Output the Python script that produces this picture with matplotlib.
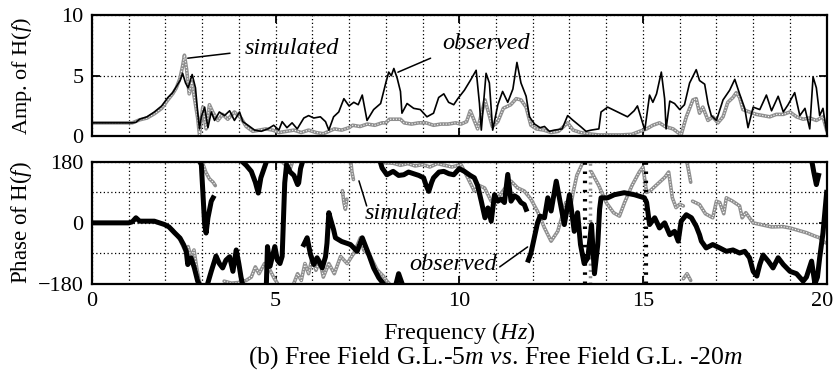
import numpy as np
import matplotlib
matplotlib.use("Agg")
import matplotlib.pyplot as plt
import matplotlib.transforms as mtransforms

nan = np.nan

plt.rcParams['font.family'] = ['Liberation Serif', 'DejaVu Serif']
plt.rcParams['mathtext.fontset'] = 'custom'
plt.rcParams['mathtext.rm'] = 'Liberation Serif'
plt.rcParams['mathtext.it'] = 'Liberation Serif:italic'

freq_ticks = [0, 5, 10, 15, 20]
amp_ticks = [0, 5, 10]
phase_ticks = [-180, 0, 180]

# amplitude of H(f): (frequency Hz, amplitude)
obs_amp = [
    (0.0, 1.1), (1.1, 1.1), (1.2, 1.15), (1.3, 1.4), (1.5, 1.6), (1.7, 2.0), (1.9, 2.5),
    (2.07, 3.2), (2.2, 3.6), (2.3, 4.1), (2.4, 4.6), (2.47, 5.2), (2.55, 4.4), (2.62, 4.0),
    (2.73, 5.1), (2.82, 4.0), (2.88, 2.0), (2.93, 0.6), (2.98, 1.6), (3.07, 2.4), (3.16, 0.7),
    (3.25, 2.0), (3.34, 1.3), (3.47, 2.0), (3.61, 1.7), (3.75, 2.1), (3.88, 1.3), (4.02, 2.0),
    (4.11, 1.2), (4.25, 0.9), (4.43, 0.5), (4.61, 0.4), (4.79, 0.6), (4.95, 0.9), (5.09, 0.5),
    (5.18, 1.2), (5.31, 0.7), (5.45, 1.1), (5.59, 0.6), (5.77, 1.5), (5.9, 1.7), (6.04, 1.5),
    (6.22, 1.6), (6.36, 1.2), (6.45, 0.5), (6.58, 1.6), (6.72, 2.0), (6.86, 3.1), (7.0, 2.5),
    (7.13, 2.8), (7.25, 2.6), (7.36, 3.4), (7.49, 1.3), (7.67, 2.2), (7.86, 2.7), (8.0, 4.4),
    (8.08, 5.3), (8.15, 5.0), (8.22, 5.6), (8.31, 4.8), (8.4, 3.7), (8.44, 1.9), (8.58, 2.7),
    (8.76, 2.3), (8.94, 2.2), (9.12, 1.6), (9.3, 1.9), (9.44, 3.2), (9.58, 3.5), (9.71, 2.8),
    (9.85, 2.6), (9.96, 3.1), (10.14, 3.8), (10.3, 4.6), (10.46, 5.45), (10.55, 2.7),
    (10.6, 0.5), (10.73, 5.2), (10.82, 4.4), (10.91, 0.5), (11.05, 2.6), (11.18, 3.7),
    (11.32, 2.8), (11.46, 3.9), (11.57, 6.1), (11.68, 4.4), (11.82, 3.3), (11.91, 1.6),
    (12.05, 1.0), (12.2, 0.7), (12.32, 0.8), (12.45, 0.4), (12.59, 0.5), (12.8, 0.6),
    (12.95, 1.7), (13.1, 1.3), (13.3, 0.8), (13.45, 0.4), (13.59, 0.5), (13.8, 0.6),
    (13.86, 2.0), (14.04, 2.4), (14.31, 2.0), (14.58, 1.6), (14.76, 2.1), (14.85, 2.5),
    (14.94, 1.6), (15.05, 0.5), (15.18, 3.4), (15.27, 2.8), (15.37, 3.5), (15.5, 5.3),
    (15.59, 3.1), (15.63, 0.6), (15.73, 2.9), (15.86, 2.7), (16.0, 2.2), (16.13, 2.6),
    (16.27, 4.4), (16.45, 5.5), (16.54, 4.6), (16.68, 4.3), (16.77, 2.7), (16.86, 1.7),
    (17.0, 1.3), (17.18, 3.0), (17.36, 3.8), (17.5, 4.7), (17.63, 3.5), (17.77, 2.3),
    (17.86, 0.7), (18.0, 2.4), (18.18, 2.2), (18.36, 3.4), (18.5, 2.1), (18.68, 3.3),
    (18.82, 2.0), (18.95, 2.6), (19.13, 3.6), (19.27, 1.7), (19.41, 2.3), (19.54, 0.6),
    (19.63, 4.9), (19.72, 4.0), (19.81, 1.7), (19.9, 2.3), (20.0, 0.3),
]

sim_amp = [
    (0.0, 1.1), (1.1, 1.1), (1.3, 1.35), (1.5, 1.5), (1.7, 1.85), (1.9, 2.3), (2.07, 3.0),
    (2.2, 3.5), (2.3, 4.0), (2.4, 4.8), (2.47, 5.8), (2.52, 6.7), (2.58, 5.5), (2.65, 3.5),
    (2.72, 4.5), (2.8, 3.0), (2.88, 1.5), (2.93, 0.1), (2.98, 1.5), (3.02, 2.4), (3.11, 0.6),
    (3.2, 2.6), (3.29, 2.0), (3.43, 1.3), (3.56, 1.8), (3.7, 1.4), (3.88, 2.0), (4.06, 1.5),
    (4.2, 0.8), (4.38, 0.4), (4.56, 0.5), (4.74, 0.6), (4.92, 0.5), (5.1, 0.3), (5.3, 0.4),
    (5.5, 0.5), (5.7, 0.3), (5.9, 0.5), (6.1, 0.3), (6.3, 0.2), (6.45, 0.4), (6.6, 0.6),
    (6.8, 0.5), (7.0, 0.7), (7.1, 0.9), (7.3, 0.8), (7.5, 1.0), (7.7, 0.9), (7.9, 1.1),
    (8.0, 1.1), (8.1, 1.4), (8.25, 1.4), (8.4, 1.4), (8.5, 1.1), (8.7, 1.0), (8.9, 1.1),
    (9.1, 1.1), (9.3, 0.9), (9.5, 1.0), (9.7, 1.0), (9.9, 1.1), (10.05, 1.0), (10.2, 1.2),
    (10.3, 2.1), (10.5, 0.6), (10.7, 3.0), (10.9, 0.8), (11.05, 1.2), (11.2, 2.3),
    (11.4, 2.6), (11.55, 3.1), (11.68, 3.0), (11.82, 2.4), (11.95, 0.9), (12.1, 0.6),
    (12.3, 0.5), (12.5, 0.3), (12.7, 0.4), (12.95, 1.1), (13.1, 0.5), (13.3, 0.3),
    (13.5, 0.2), (13.8, 0.1), (14.1, 0.1), (14.4, 0.1), (14.7, 0.15), (14.91, 0.4),
    (15.1, 0.6), (15.27, 0.9), (15.45, 1.1), (15.6, 0.8), (15.82, 0.6), (16.04, 0.1),
    (16.18, 1.6), (16.36, 3.0), (16.45, 3.1), (16.54, 1.9), (16.63, 2.4), (16.77, 1.3),
    (16.9, 1.6), (17.04, 1.1), (17.18, 1.6), (17.31, 2.8), (17.45, 3.2), (17.54, 3.6),
    (17.63, 3.2), (17.72, 2.2), (17.9, 2.0), (18.09, 1.8), (18.27, 1.7), (18.45, 1.6),
    (18.63, 1.8), (18.82, 1.8), (19.0, 2.0), (19.18, 1.6), (19.36, 1.4), (19.54, 1.5),
    (19.72, 1.3), (19.9, 1.6), (20.0, 0.5),
]

# phase of H(f) in degrees, (nan, nan) rows separate the wrapped pieces
obs_phase = [
    (0.0, 0), (1.0, 0), (1.1, 3), (1.2, 15), (1.3, 5), (1.7, 5), (1.98, -5), (2.1, -12),
    (2.25, -29), (2.4, -45), (2.5, -65), (2.57, -84), (2.61, -123), (2.7, -103),
    (2.79, -133), (2.88, -172), (2.92, -180),
    (nan, nan),
    (2.94, 180), (2.98, 172), (3.02, 94), (3.07, -5), (3.11, -30), (3.16, 15), (3.25, 64),
    (3.3, 74),
    (nan, nan),
    (3.15, -180), (3.25, -143), (3.38, -98), (3.47, -120), (3.56, -133), (3.65, -110),
    (3.75, -100), (3.84, -143), (3.93, -80), (4.0, -120), (4.06, -160), (4.1, -180),
    (nan, nan),
    (4.1, 180), (4.2, 170), (4.34, 152), (4.45, 120), (4.53, 88), (4.6, 133), (4.7, 165),
    (4.75, 180),
    (nan, nan),
    (4.75, -180), (4.78, -70), (4.85, -128), (4.98, -70), (5.05, -110), (5.12, -120),
    (5.18, -99), (5.22, 20), (5.25, 118), (5.3, 172), (5.4, 150), (5.5, 140), (5.6, 113),
    (5.63, 118), (5.68, 160), (5.72, 175),
    (nan, nan),
    (5.77, -64), (5.86, -44), (5.95, -93), (6.04, -123), (6.13, -103), (6.27, -133),
    (6.36, -100), (6.4, -60), (6.45, 30), (6.5, 10), (6.58, -20), (6.63, -44), (6.8, -55),
    (7.04, -64), (7.22, -84), (7.36, -44), (7.54, -94), (7.67, -133), (7.81, -162),
    (7.94, -180),
    (nan, nan),
    (7.85, 180), (7.9, 162), (8.03, 142), (8.2, 152), (8.35, 140), (8.49, 142), (8.62, 150),
    (8.76, 145), (8.9, 140), (9.03, 133), (9.1, 110), (9.17, 93), (9.25, 120), (9.3, 133),
    (9.45, 150), (9.58, 152), (9.72, 145), (9.85, 142), (10.0, 160), (10.14, 152),
    (10.3, 140), (10.41, 133), (10.5, 110), (10.6, 64), (10.7, 15), (10.78, 44), (10.87, 5),
    (10.96, 83), (11.05, 64), (11.14, 70), (11.23, 60), (11.32, 143), (11.41, 64),
    (11.5, 80), (11.59, 74), (11.68, 60), (11.77, 54), (11.82, 40),
    (nan, nan),
    (8.28, -180), (8.35, -150), (8.44, -178),
    (nan, nan),
    (11.88, -110), (11.95, -90), (12.05, -40), (12.13, 0), (12.2, 20), (12.32, 15),
    (12.41, 74), (12.5, 35), (12.64, 123), (12.73, 70), (12.86, -5), (13.0, 83),
    (13.13, -25), (13.22, 30), (13.3, -64), (13.4, -120), (13.5, -103), (13.6, -5),
    (13.68, -150), (13.77, -64), (13.82, 40), (13.86, 74), (14.04, 74), (14.22, 83),
    (14.49, 89), (14.77, 83), (15.04, 74), (15.1, 60), (15.18, -5), (15.32, 15),
    (15.45, -15), (15.59, 0), (15.73, -35), (15.86, -25), (15.96, -54), (16.04, 5),
    (16.18, 24), (16.32, 15), (16.45, -10), (16.54, -35), (16.59, -54), (16.72, -74),
    (16.9, -64), (17.09, -74), (17.27, -84), (17.45, -80), (17.63, -89), (17.77, -84),
    (17.9, -103), (18.0, -143), (18.1, -157), (18.18, -123), (18.27, -95), (18.41, -113),
    (18.54, -133), (18.68, -103), (18.82, -123), (19.0, -143), (19.18, -150),
    (19.36, -172), (19.45, -160), (19.59, -113), (19.68, -180), (19.75, -160),
    (19.81, -103), (19.9, -30), (20.0, 90),
    (nan, nan),
    (19.6, 180), (19.65, 150), (19.72, 113), (19.78, 140),
]

sim_phase = [
    (2.0, -5), (2.2, -20), (2.4, -50), (2.55, -85), (2.62, -70), (2.7, -100), (2.78, -80),
    (2.85, -130), (2.92, -170), (2.95, -180),
    (nan, nan),
    (2.95, 180), (3.02, 175), (3.1, 150), (3.2, 130), (3.3, 120), (3.36, 110),
    (nan, nan),
    (3.6, -172), (3.8, -178), (4.0, -176), (4.2, -170), (4.34, -160), (4.45, -130),
    (4.55, -150), (4.7, -120), (4.85, -140), (4.97, -165), (5.05, -178),
    (nan, nan),
    (5.2, 178), (5.3, 168), (5.4, 160), (5.45, 176),
    (nan, nan),
    (5.5, -178), (5.6, -150), (5.7, -170), (5.8, -120), (5.9, -150), (6.0, -100),
    (6.1, -140), (6.2, -110), (6.3, -160), (6.45, -120), (6.6, -150), (6.77, -99),
    (6.95, -120), (7.13, -90), (7.31, -44), (7.4, -80), (7.58, -99), (7.76, -138),
    (7.94, -158), (8.03, -172), (8.1, -180),
    (nan, nan),
    (6.82, 95), (6.86, 60), (6.9, 40), (6.94, 70),
    (nan, nan),
    (7.05, 180), (7.08, 150), (7.12, 128),
    (nan, nan),
    (7.9, 178), (8.2, 176), (8.4, 170), (8.6, 175), (8.8, 168), (9.0, 172), (9.2, 165),
    (9.4, 175), (9.6, 170), (9.8, 165), (10.05, 172), (10.23, 133), (10.41, 94),
    (10.55, 110), (10.69, 103), (10.87, 64), (11.05, 74), (11.23, 100), (11.41, 123),
    (11.59, 103), (11.77, 94), (11.95, 70), (12.13, 34), (12.32, -15), (12.5, -54),
    (12.68, -25), (12.8, 20), (12.9, 60), (13.0, 30), (13.1, 90), (13.2, 140), (13.35, 175),
    (nan, nan),
    (13.6, 150), (13.8, 110), (14.0, 60), (14.2, 30), (14.36, 20), (14.5, 60), (14.7, 110),
    (14.9, 150), (15.0, 165), (15.1, 90), (15.2, 95), (15.4, 115), (15.6, 135), (15.7, 150),
    (15.8, 74), (15.9, 45), (16.0, 55), (16.1, 50),
    (nan, nan),
    (16.2, 178), (16.25, 150), (16.3, 120),
    (nan, nan),
    (16.1, -165), (16.2, -150), (16.3, -170),
    (nan, nan),
    (16.35, 64), (16.54, 54), (16.7, 27), (16.9, 15), (17.0, 64), (17.09, 60), (17.2, 27),
    (17.27, 74), (17.44, 64), (17.63, 50), (17.7, 15), (17.8, 30), (18.0, 0), (18.5, -12),
    (18.8, -11), (19.0, -15), (19.45, -29), (19.7, -40), (19.81, -44), (19.9, -55),
    (20.0, -60),
]

# frequencies where the phase jumps through the full range (drawn as dotted columns)
obs_jump_f = [13.42, 15.07]
sim_jump_f = [13.55]


def gray_line(ax, pts):
    a = np.array(pts, dtype=float)
    ax.plot(a[:, 0], a[:, 1], color='#8f8f8f', lw=2.6, solid_capstyle='round', zorder=2)
    ax.plot(a[:, 0], a[:, 1], color='white', lw=0.8, ls=(0, (1, 1.6)), zorder=2.1)


def pointer(ax, p0, p1):
    ax.annotate('', xy=p1, xytext=p0,
                arrowprops=dict(arrowstyle='-', lw=1.1, color='black', shrinkA=0, shrinkB=0))


def style_axes(ax):
    ax.set_xlim(0, 20)
    ax.set_xticks(freq_ticks)
    ax.set_xticks(np.arange(0, 21, 1), minor=True)
    ax.grid(True, which='both', color='black', ls=(0, (1, 2)), lw=0.9)
    ax.tick_params(which='major', direction='in', length=6, width=1.3,
                   top=True, right=True, labelsize=16, pad=6)
    ax.tick_params(which='minor', length=0)
    for s in ax.spines.values():
        s.set_linewidth(1.6)
    ax.set_axisbelow(True)


def main():
    fig = plt.figure(figsize=(8.35, 3.73), dpi=100)
    ax1 = fig.add_axes([0.110, 0.635, 0.880, 0.324])
    ax2 = fig.add_axes([0.110, 0.239, 0.880, 0.327])

    # amplitude
    gray_line(ax1, sim_amp)
    a = np.array(obs_amp)
    ax1.plot(a[:, 0], a[:, 1], color='black', lw=1.2, zorder=3)
    style_axes(ax1)
    ax1.set_ylim(0, 10)
    ax1.set_yticks(amp_ticks)
    ax1.tick_params(labelbottom=False)
    ax1.set_ylabel('Amp. of H($f$)', fontsize=16)
    ax1.yaxis.set_label_coords(-0.079, 0.5)

    pointer(ax1, (3.76, 6.86), (2.61, 6.45))
    ax1.text(4.16, 7.27, 'simulated', fontsize=17.5, style='italic', ha='left', va='center')
    pointer(ax1, (9.22, 6.45), (8.33, 5.29))
    ax1.text(9.55, 7.69, 'observed', fontsize=17.5, style='italic', ha='left', va='center')

    # phase
    gray_line(ax2, sim_phase)
    p = np.array(obs_phase, dtype=float)
    ax2.plot(p[:, 0], p[:, 1], color='black', lw=3.6, zorder=3)
    for f in obs_jump_f:
        ax2.plot([f, f], [-180, 180], color='black', lw=3, ls=(0, (0.6, 1.6)), zorder=3)
    for f in sim_jump_f:
        ax2.plot([f, f], [-180, 180], color='#8f8f8f', lw=2.5, ls=(0, (0.6, 1.2)), zorder=2)
    style_axes(ax2)
    ax2.set_ylim(-180, 180)
    ax2.set_yticks(phase_ticks)
    ax2.set_yticks([-90, 90], minor=True)
    ax2.set_ylabel('Phase of H($f$)', fontsize=16.5)
    ax2.yaxis.set_label_coords(-0.079, 0.5)
    ax2.set_xlabel('Frequency ($Hz$)', fontsize=17.5)
    ax2.xaxis.set_label_coords(0.5, -0.30)
    # last tick label sits on the figure edge; nudge it inwards a little
    last = ax2.get_xticklabels()[-1]
    last.set_transform(last.get_transform() +
                       mtransforms.ScaledTranslation(-5 / 100, 0, fig.dpi_scale_trans))

    pointer(ax2, (7.27, 124), (7.48, 50))
    ax2.text(8.71, 29, 'simulated', fontsize=17.5, style='italic', ha='center', va='center')
    pointer(ax2, (11.1, -130), (11.86, -71))
    ax2.text(9.82, -124, 'observed', fontsize=17.5, style='italic', ha='center', va='center')

    fig.text(0.593, 0.042, '(b) Free Field G.L.-5$m$ $vs$. Free Field G.L. -20$m$',
             fontsize=18.5, ha='center', va='center')

    fig.savefig('out.png', dpi=100)


main()
